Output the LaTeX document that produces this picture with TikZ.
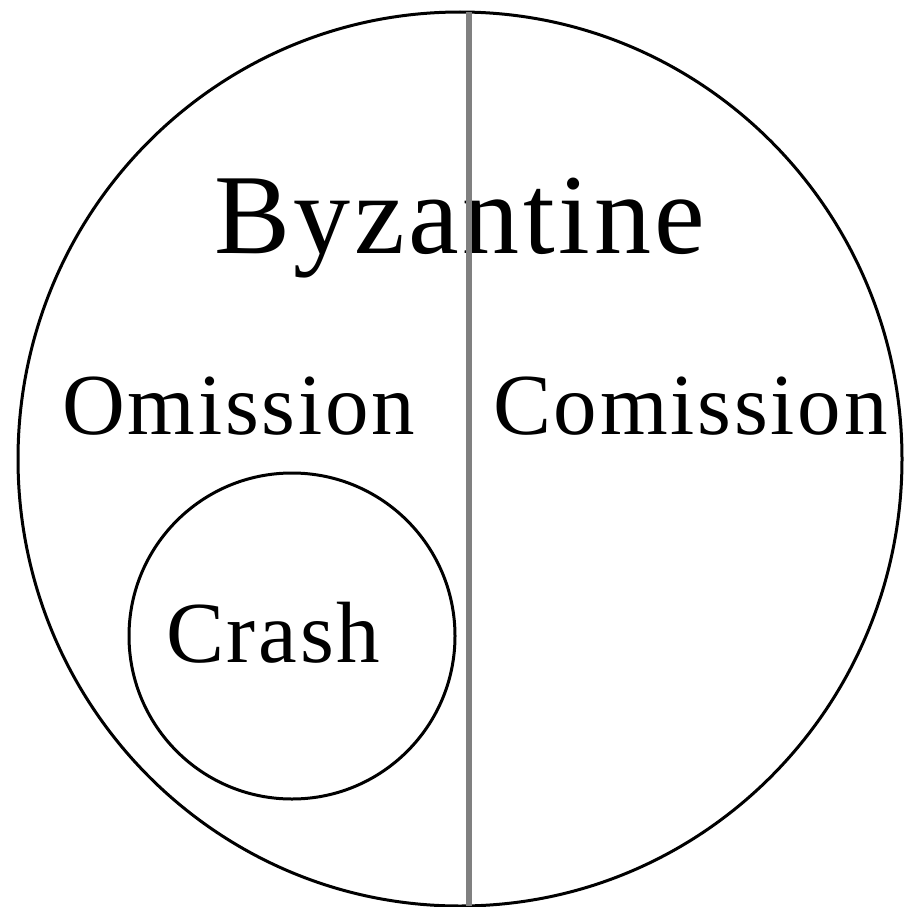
\documentclass[tikz,border=0pt]{standalone}
\usepackage{fontspec}
\setmainfont{Liberation Serif}
\newfontfamily\lsbig[LetterSpace=3.2]{Liberation Serif}
\newfontfamily\lssmall[LetterSpace=3.2]{Liberation Serif}
\tikzset{
  ring/.style={draw=black, line width=3pt},
  divider/.style={draw=black!50, line width=6pt},
  bigtext/.style={anchor=base west, inner sep=0pt, font=\lsbig\fontsize{114}{130}\selectfont},
  smalltext/.style={anchor=base west, inner sep=0pt, font=\lssmall\fontsize{87}{100}\selectfont}
}
\begin{document}
\begin{tikzpicture}[x=1pt,y=-1pt]
\useasboundingbox (0,0) rectangle (905,907);
\fill[white] (0,0) rectangle (905,907);
\draw[ring] (460,459) ellipse [x radius=442, y radius=447];
\draw[ring] (292,636) circle [radius=163];
\node[bigtext] (byz) at (214,253) {Byzantine};
\node[smalltext] (om) at (62,434) {Omission};
\node[smalltext] (com) at (493,434) {Comission};
\node[smalltext] (cr) at (166,662) {Crash};
\coordinate (top) at (469,12);
\coordinate (bot) at (469,906);
\draw[divider] (top) -- (bot);
\end{tikzpicture}
\end{document}
